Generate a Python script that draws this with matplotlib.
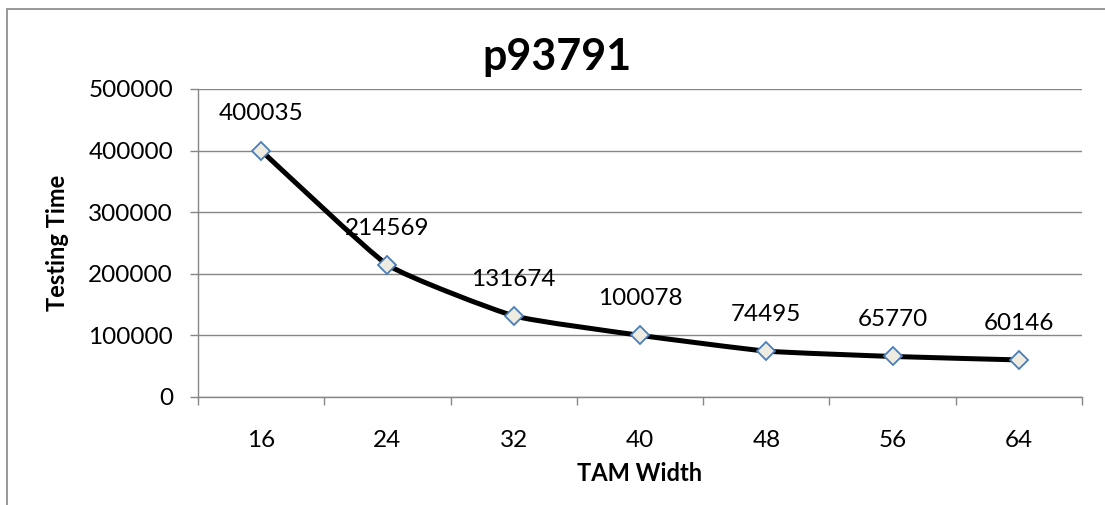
import matplotlib
matplotlib.use("Agg")
import matplotlib.pyplot as plt
from matplotlib.path import Path
from matplotlib.patches import PathPatch, Rectangle

# data
tam_width = ["16", "24", "32", "40", "48", "56", "64"]
testing_time = [400035, 214569, 131674, 100078, 74495, 65770, 60146]

plt.rcParams["font.family"] = ["Lato", "DejaVu Sans"]
grey = "#868686"

fig = plt.figure(figsize=(11.05, 5.05), dpi=100)
ax = fig.add_axes([0.1792, 0.2139, 0.8, 0.6099])

xs = list(range(len(testing_time)))
ys = testing_time

# lightly smoothed line (Excel style) as bezier path through the points
k = 1 / 14
verts = [(xs[0], ys[0])]
codes = [Path.MOVETO]
n = len(xs)
for i in range(n - 1):
    p0 = (xs[max(i - 1, 0)], ys[max(i - 1, 0)])
    p1 = (xs[i], ys[i])
    p2 = (xs[i + 1], ys[i + 1])
    p3 = (xs[min(i + 2, n - 1)], ys[min(i + 2, n - 1)])
    c1 = (p1[0] + (p2[0] - p0[0]) * k, p1[1] + (p2[1] - p0[1]) * k)
    c2 = (p2[0] - (p3[0] - p1[0]) * k, p2[1] - (p3[1] - p1[1]) * k)
    verts += [c1, c2, p2]
    codes += [Path.CURVE4] * 3
ax.add_patch(PathPatch(Path(verts, codes), facecolor="none", edgecolor="black",
                       lw=3.6, capstyle="butt", joinstyle="round", zorder=3))

ax.plot(xs, ys, linestyle="none", marker="D", markersize=9.2,
        markerfacecolor="#EEECE1", markeredgecolor="#4A7EBB",
        markeredgewidth=1.3, zorder=4)

for x, y in zip(xs, ys):
    ax.annotate(str(y), (x, y), xytext=(0, 26.5), textcoords="offset points",
                ha="center", va="center", fontsize=17.5, color="black")

ax.set_xlim(-0.5, len(xs) - 0.5)
ax.set_ylim(0, 500000)
ax.set_yticks(range(0, 500001, 100000))
ax.set_xticks(xs)
ax.set_xticklabels(tam_width)
ax.set_xticks([i - 0.5 for i in range(len(xs) + 1)], minor=True)
ax.tick_params(axis="x", which="major", length=0, pad=24, labelsize=17.5)
ax.tick_params(axis="x", which="minor", length=6, width=1, color=grey)
ax.tick_params(axis="y", length=6, width=1, color=grey, pad=12, labelsize=17.5)

ax.grid(axis="y", color=grey, lw=1)
ax.set_axisbelow(True)
for s in ["top", "right"]:
    ax.spines[s].set_visible(False)
for s in ["left", "bottom"]:
    ax.spines[s].set_color(grey)
    ax.spines[s].set_linewidth(1)

fig.text(557 / 1105, 1 - 57 / 505, "p93791", fontsize=31, fontweight="bold",
         ha="center", va="center")
ax.set_xlabel("TAM Width", fontsize=17, fontweight="bold", labelpad=8)
ax.set_ylabel("Testing Time", fontsize=17, fontweight="bold", labelpad=14)

# outer chart frame (runs off the right and bottom edges)
fig.add_artist(Rectangle((7 / 1105, -0.2), 2, 1.2 - 9 / 505,
                         transform=fig.transFigure, fill=False,
                         edgecolor=grey, lw=1.2))

fig.savefig("out.png", dpi=100)
